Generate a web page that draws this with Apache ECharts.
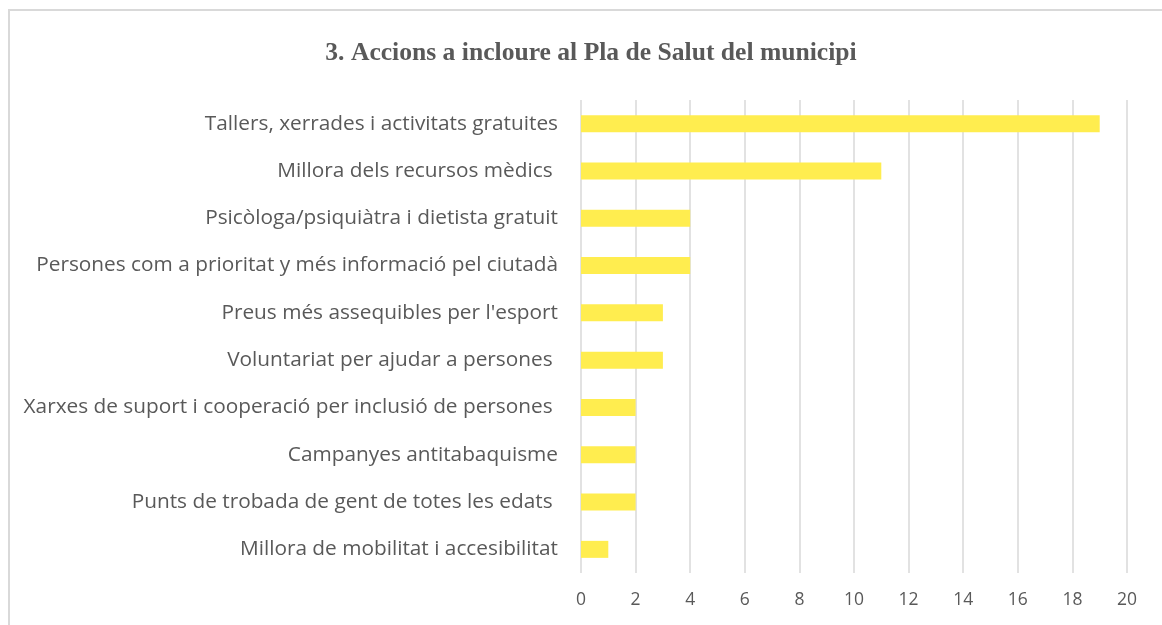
<!DOCTYPE html>
<html>
<head>
<meta charset="utf-8">
<script src="https://cdn.jsdelivr.net/npm/echarts@6/dist/echarts.min.js"></script>
<style>
  html, body { margin: 0; padding: 0; background: #fff; }
  #frame { position: absolute; left: 8px; top: 9px; width: 1170px; height: 640px; border: 2px solid #d9d9d9; box-sizing: border-box; }
  #chart { position: absolute; left: 0; top: 0; width: 1162px; height: 625px; }
</style>
</head>
<body>
<div id="frame"></div>
<div id="chart"></div>
<script>
const titleText = '3. Accions a incloure al Pla de Salut del municipi';
const categories = [
  'Tallers, xerrades i activitats gratuites',
  'Millora dels recursos mèdics ',
  'Psicòloga/psiquiàtra i dietista gratuit',
  'Persones com a prioritat y més informació pel ciutadà',
  "Preus més assequibles per l'esport",
  'Voluntariat per ajudar a persones ',
  'Xarxes de suport i cooperació per inclusió de persones ',
  'Campanyes antitabaquisme',
  'Punts de trobada de gent de totes les edats ',
  'Millora de mobilitat i accesibilitat'
];
const values = [19, 11, 4, 4, 3, 3, 2, 2, 2, 1];
const axisMin = 0, axisMax = 20, axisStep = 2;

const textColor = '#595959';
const chart = echarts.init(document.getElementById('chart'), null, { renderer: 'canvas' });
chart.setOption({
  backgroundColor: 'transparent',
  animation: false,
  title: {
    text: titleText,
    left: 586,
    textAlign: 'center',
    top: 35,
    textStyle: { fontFamily: 'Liberation Serif', fontWeight: 'bold', fontSize: 25.6, color: textColor }
  },
  grid: { left: 581, right: 35, top: 100, bottom: 52, containLabel: false },
  xAxis: {
    type: 'value',
    min: axisMin, max: axisMax, interval: axisStep,
    axisLine: { show: false },
    axisTick: { show: false },
    axisLabel: { color: textColor, fontFamily: 'Open Sans', fontSize: 17.5, margin: 18 },
    splitLine: { show: true, lineStyle: { color: '#d9d9d9', width: 1.5 } }
  },
  yAxis: {
    type: 'category',
    data: categories,
    inverse: true,
    axisLine: { show: false },
    axisTick: { show: false },
    axisLabel: { color: textColor, fontFamily: 'Open Sans', fontSize: 20.8, margin: 23, padding: [4, 0, 0, 0] }
  },
  series: [{
    type: 'bar',
    data: values,
    barWidth: 17,
    itemStyle: { color: '#FFED4F' }
  }]
});
</script>
</body>
</html>
